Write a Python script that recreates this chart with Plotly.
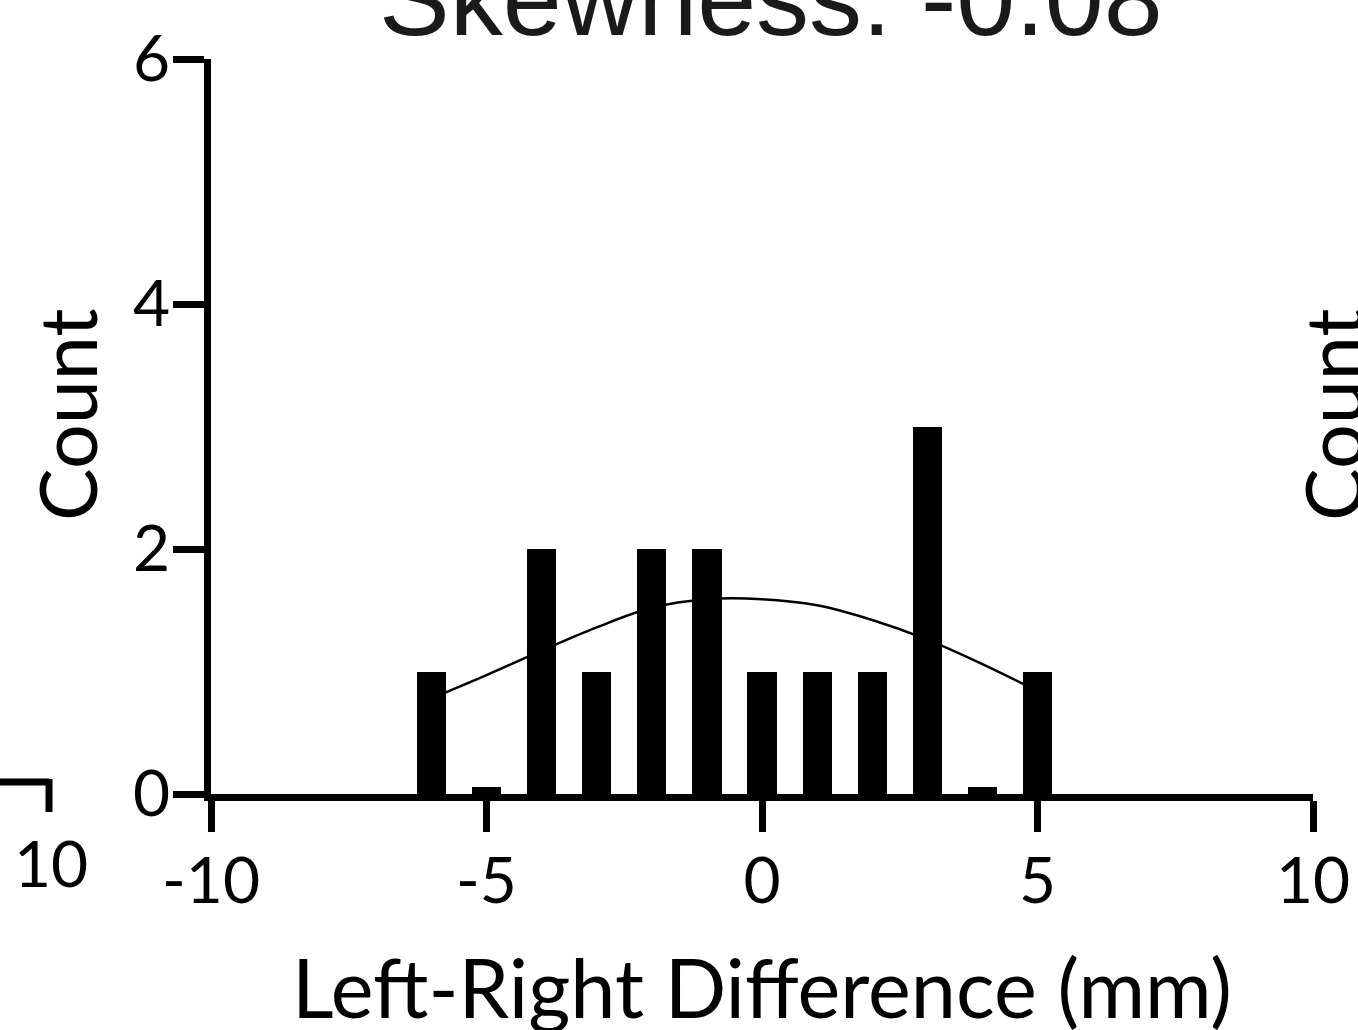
import plotly.graph_objects as go

# Histogram data: bin centers (mm) and counts
bin_centers = [-6, -5, -4, -3, -2, -1, 0, 1, 2, 3, 4, 5]
counts = [1, 0, 2, 1, 2, 2, 1, 1, 1, 3, 0, 1]

# Fitted distribution curve
curve_x = [-6, -5, -4, -3, -2, -1, 0, 1, 2, 3, 4, 5]
curve_y = [0.78, 0.97, 1.17, 1.36, 1.52, 1.59, 1.59, 1.54, 1.42, 1.26, 1.06, 0.84]

x_ticks = [-10, -5, 0, 5, 10]
y_ticks = [0, 2, 4, 6]

title_text = "Skewness: -0.08"
x_title = "Left-Right Difference (mm)"
y_title = "Count"

FONT = "Lato"
W, H = 1358, 1030
L, R, T, B = 211, 45, 59, 236
PW, PH = W - L - R, H - T - B


def px(xp):
    return (xp - L) / PW


def py(yp):
    return (H - B - yp) / PH


# zero-count bins are drawn as a thin sliver, as in the original
display_counts = [c if c > 0 else 0.06 for c in counts]

fig = go.Figure()
fig.add_trace(go.Scatter(x=curve_x, y=curve_y, mode="lines",
                         line=dict(color="black", width=2.5, shape="spline"),
                         hoverinfo="skip", showlegend=False))
fig.add_trace(go.Bar(x=bin_centers, y=display_counts, width=0.53,
                     marker=dict(color="black", line=dict(width=0)),
                     customdata=counts, hovertemplate="%{x}: %{customdata}<extra></extra>",
                     showlegend=False))

axis_common = dict(showgrid=False, zeroline=False, showline=True, linecolor="black",
                   linewidth=7, ticks="outside", ticklen=31, tickwidth=7, tickcolor="black",
                   tickfont=dict(family=FONT, size=64, color="black"))

fig.update_xaxes(range=[-10, 10], tickvals=x_ticks, ticktext=[str(v) for v in x_ticks],
                 ticklabelstandoff=-6, **axis_common)
fig.update_yaxes(range=[0, 6], tickvals=y_ticks, ticktext=[str(v) for v in y_ticks],
                 ticklabelstandoff=-10, **axis_common)

annotations = [
    dict(text=title_text, x=px(771), y=py(38), xref="paper", yref="paper",
         xanchor="center", yanchor="bottom", showarrow=False, yshift=-21,
         font=dict(family="Liberation Sans", size=106, color="#1a1a1a")),
    dict(text=x_title, x=px(762), y=py(986), xref="paper", yref="paper",
         xanchor="center", yanchor="middle", showarrow=False,
         font=dict(family=FONT, size=81, color="black")),
    dict(text=y_title, x=px(67), y=py(415), xref="paper", yref="paper",
         xanchor="center", yanchor="middle", showarrow=False, textangle=-90,
         font=dict(family=FONT, size=79, color="black")),
    # partial neighbouring panels (cropped)
    dict(text=y_title, x=px(1333), y=py(415), xref="paper", yref="paper",
         xanchor="center", yanchor="middle", showarrow=False, textangle=-90,
         font=dict(family=FONT, size=79, color="black")),
    dict(text="10", x=px(51), y=py(862), xref="paper", yref="paper",
         xanchor="center", yanchor="middle", showarrow=False,
         font=dict(family=FONT, size=64, color="black")),
]

shapes = [
    dict(type="line", xref="paper", yref="paper", x0=px(-5), x1=px(49), y0=py(782), y1=py(782),
         line=dict(color="black", width=7)),
    dict(type="line", xref="paper", yref="paper", x0=px(49), x1=px(49), y0=py(779), y1=py(812),
         line=dict(color="black", width=7)),
]

fig.update_layout(width=W, height=H, margin=dict(l=L, r=R, t=T, b=B, autoexpand=False),
                  plot_bgcolor="white", paper_bgcolor="white",
                  annotations=annotations, shapes=shapes, bargap=0,
                  font=dict(family=FONT, color="black"))

fig.write_html("out.html", config={"displayModeBar": False},
               post_script="document.body.style.margin='0';document.body.style.overflow='hidden';")
